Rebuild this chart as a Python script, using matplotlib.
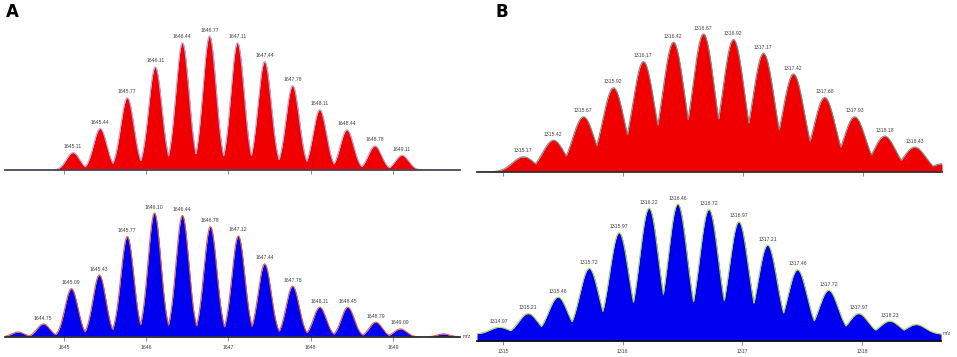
import numpy as np
import matplotlib.pyplot as plt

# ----------------------------------------------
# Data: labelled isotope peaks (m/z, rel. intensity %)
# ----------------------------------------------
a_red_labels = ["1645.11", "1645.44", "1645.77", "1646.11", "1646.44", "1646.77", "1647.11",
                "1647.44", "1647.78", "1648.11", "1648.44", "1648.78", "1649.11"]
a_red_int = [13, 31, 54, 77, 95, 100, 95, 81, 63, 45, 30, 18, 11]

a_blue_labels = ["1644.75", "1645.09", "1645.43", "1645.77", "1646.10", "1646.44", "1646.78",
                 "1647.12", "1647.44", "1647.78", "1648.11", "1648.45", "1648.79", "1649.09"]
a_blue_int = [10.5, 39, 50, 81, 100, 98, 89, 81.5, 59, 41, 24, 24, 12, 6.5]
a_blue_minor_mz = [1644.44, 1649.61]
a_blue_minor_int = [4, 2.5]

b_red_labels = ["1315.17", "1315.42", "1315.67", "1315.92", "1316.17", "1316.42", "1316.67",
                "1316.92", "1317.17", "1317.42", "1317.68", "1317.93", "1318.18", "1318.43"]
b_red_int = [11, 23, 40, 61, 80, 94, 100, 96, 86, 71, 54, 40, 26, 18]
b_red_minor_mz = [1318.66]
b_red_minor_int = [6]

b_blue_labels = ["1314.97", "1315.21", "1315.46", "1315.72", "1315.97", "1316.22", "1316.46",
                 "1316.72", "1316.97", "1317.21", "1317.46", "1317.72", "1317.97", "1318.23"]
b_blue_int = [5, 15, 27, 48, 74, 92, 95, 91, 82, 65, 47, 32, 15, 9.5]
b_blue_minor_mz = [1318.45]
b_blue_minor_int = [7]
b_blue_base = 5

a_ticks = [1645, 1646, 1647, 1648, 1649]
b_ticks = [1315, 1316, 1317, 1318]

W, H = 957, 357
fig = plt.figure(figsize=(W / 100, H / 100), dpi=100)
small = dict(fontsize=3.7, family="Liberation Sans", color="#404040")


def px_axes(left, right, base, full):
    # axes placed in pixel coordinates; 'full' = pixels for 100 %
    top = base - full * 1.05
    return fig.add_axes([left / W, 1 - base / H, (right - left) / W, (base - top) / H])


def draw_panel(ax, xlim, labels, ints, minor_mz, minor_int, fwhm, base,
               fill, edge, axis_col, ticks, ticklabels):
    mz = [float(t) for t in labels] + list(minor_mz)
    hs = list(ints) + list(minor_int)
    x = np.linspace(xlim[0], xlim[1], 4000)
    prof = np.zeros_like(x)
    for m, h in zip(mz, hs):
        prof = np.maximum(prof, h * np.exp(-4 * np.log(2) * (x - m) ** 2 / fwhm ** 2))
    y = base + prof
    ax.fill_between(x, 0, y, color=fill, lw=0)
    ax.plot(x, y, color=edge, lw=0.8)

    # peak labels
    for t, h in zip(labels, ints):
        ax.annotate(t, (float(t), base + h), xytext=(0, 2.5), textcoords="offset points",
                    ha="center", va="bottom", **small)

    ax.set_xlim(*xlim)
    ax.set_ylim(0, 105)
    for s in ["top", "right", "left"]:
        ax.spines[s].set_visible(False)
    ax.spines["bottom"].set_color(axis_col)
    ax.spines["bottom"].set_linewidth(1.3)
    ax.set_yticks([])
    ax.set_xticks(ticks)
    if ticklabels:
        ax.set_xticklabels([str(t) for t in ticks], **small)
    else:
        ax.set_xticklabels([])
    ax.tick_params(axis="x", length=3, width=0.6, color="#777777", pad=3)
    ax.set_facecolor("none")


# Panel A (top, red)
ax1 = px_axes(5, 460, 170, 134)
draw_panel(ax1, (1644.283, 1649.815), a_red_labels, a_red_int, [], [], 0.19, 0,
           "#f00000", "#b8a8d8", "#4a4a5a", a_ticks, False)

# Panel A (bottom, blue)
ax2 = px_axes(5, 460, 337, 124)
draw_panel(ax2, (1644.283, 1649.815), a_blue_labels, a_blue_int, a_blue_minor_mz,
           a_blue_minor_int, 0.185, 0, "#0000f0", "#e86040", "#333333", a_ticks, True)
ax2.text(1.006, 0.0, "m/z", transform=ax2.transAxes, ha="left", va="center", **small)

# Panel B (top, red)
ax3 = px_axes(477, 942, 172, 138)
draw_panel(ax3, (1314.783, 1318.658), b_red_labels, b_red_int, b_red_minor_mz,
           b_red_minor_int, 0.215, 0, "#f00000", "#888888", "#333333", b_ticks, False)

# Panel B (bottom, blue)
ax4 = px_axes(477, 941, 341, 137)
draw_panel(ax4, (1314.783, 1318.658), b_blue_labels, b_blue_int, b_blue_minor_mz,
           b_blue_minor_int, 0.185, b_blue_base, "#0000f0", "#a8d848", "#111111", b_ticks, True)
ax4.text(1.004, 0.05, "m/z", transform=ax4.transAxes, ha="left", va="center", **small)

# Panel letters
fig.text(12 / W, 1 - 12 / H, "A", fontsize=12, fontweight="bold", ha="center", va="center")
fig.text(502 / W, 1 - 12 / H, "B", fontsize=12, fontweight="bold", ha="center", va="center")

plt.savefig("out.png", dpi=100)
